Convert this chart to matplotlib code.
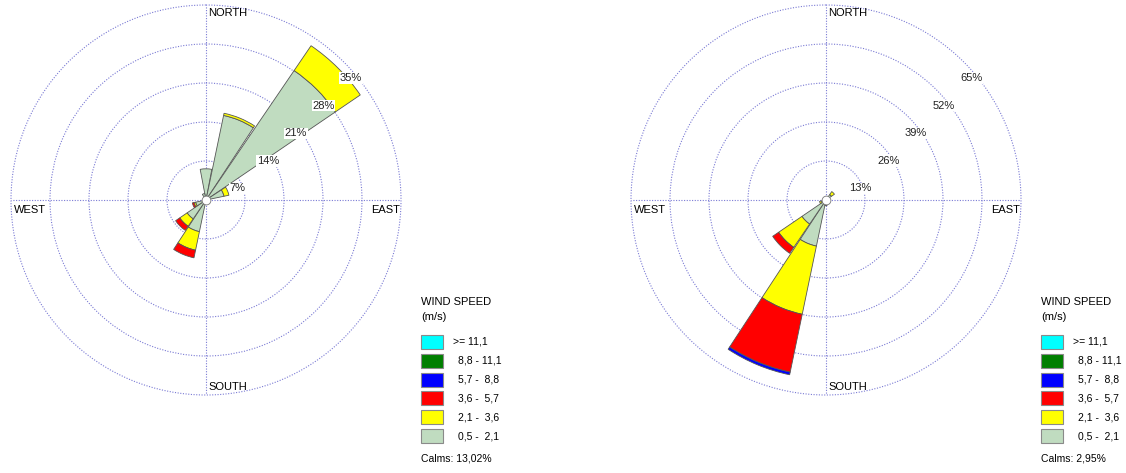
import numpy as np
import matplotlib.pyplot as plt
from matplotlib.patches import Rectangle

plt.rcParams['font.family'] = ['Liberation Sans', 'DejaVu Sans']

W, H = 1126, 473

# 16 compass sectors, clockwise from north
directions = ['N', 'NNE', 'NE', 'ENE', 'E', 'ESE', 'SE', 'SSE',
              'S', 'SSW', 'SW', 'WSW', 'W', 'WNW', 'NW', 'NNW']

speed_labels = ['0,5 -  2,1', '2,1 -  3,6', '3,6 -  5,7',
                '5,7 -  8,8', '8,8 - 11,1', '>= 11,1']
speed_colors = ['#c0dcc0', '#ffff00', '#ff0000', '#0000ff', '#007f00', '#00ffff']

# percent frequency per direction, one list per speed class (left rose)
left_05_21 = [5.6, 15.5, 28.1, 3.3, 0, 0, 0, 0, 0, 5.8, 4.1, 1.9, 0, 0, 0, 1.2]
left_21_36 = [0, 0.4, 5.4, 0.9, 0, 0, 0, 0, 0, 3.4, 1.6, 0.3, 0, 0, 0, 0]
left_36_57 = [0, 0, 0, 0, 0, 0, 0, 0, 0, 1.4, 0.9, 0.3, 0, 0, 0, 0]
left_57_88 = [0] * 16
left_88_111 = [0] * 16
left_111 = [0] * 16
left_calms = '13,02%'
left_rings = [7, 14, 21, 28, 35]

# right rose
right_05_21 = [0, 0, 2.2, 0, 0, 0, 0, 0, 1.4, 15.7, 9.7, 1.5, 0, 0, 0, 0]
right_21_36 = [0, 0, 1.2, 0, 0, 0, 0, 0, 0.5, 23.2, 9.4, 0.7, 0, 0, 0, 0]
right_36_57 = [0, 0, 0, 0, 0, 0, 0, 0, 0, 19.7, 2.4, 0, 0, 0, 0, 0]
right_57_88 = [0, 0, 0, 0, 0, 0, 0, 0, 0, 0.9, 0, 0, 0, 0, 0, 0]
right_88_111 = [0] * 16
right_111 = [0] * 16
right_calms = '2,95%'
right_rings = [13, 26, 39, 52, 65]

GRID = '#7a7ad4'
DOTS = (0, (1, 1.4))


def fx(px):
    return px / W


def fy(py):
    return 1 - py / H


def draw_rose(fig, cx, cy, classes, rings, calms):
    R = 195
    ax = fig.add_axes([fx(cx - R), fy(cy + R), 2 * R / W, 2 * R / H], projection='polar')
    ax.set_theta_zero_location('N')
    ax.set_theta_direction(-1)
    ax.set_ylim(0, rings[-1])

    theta = np.deg2rad(np.arange(16) * 22.5)
    width = np.deg2rad(21.5)
    bottom = np.zeros(16)
    for vals, col in zip(classes, speed_colors):
        vals = np.array(vals, dtype=float)
        mask = vals > 0
        ax.bar(theta[mask], vals[mask], width=width, bottom=bottom[mask],
               color=col, edgecolor='#555555', linewidth=0.6, zorder=3)
        bottom += vals

    ax.set_rgrids(rings, labels=[])
    ax.set_thetagrids([0, 90, 180, 270], labels=[])
    ax.grid(True, color=GRID, linestyle=DOTS, linewidth=0.8)
    ax.spines['polar'].set_visible(False)
    ax.tick_params(length=0)
    for gl in ax.yaxis.get_gridlines():
        gl.set_clip_on(False)

    for r in rings:
        ax.annotate(f'{r}%', xy=(np.deg2rad(45), r), xytext=(-4, -16),
                    textcoords='offset pixels', ha='left', va='center',
                    fontsize=8, color='#222222', zorder=5,
                    bbox=dict(facecolor='white', edgecolor='none', pad=0.5))

    # calm circle
    ax.scatter([0.5], [0.5], s=40, facecolor='white', edgecolor='#777777',
               linewidth=0.6, transform=ax.transAxes, zorder=6, clip_on=False)

    fig.text(fx(cx + 2), fy(cy - 187), 'NORTH', fontsize=8, ha='left', va='center')
    fig.text(fx(cx + 2), fy(cy + 187), 'SOUTH', fontsize=8, ha='left', va='center')
    fig.text(fx(cx - 192), fy(cy + 10), 'WEST', fontsize=8, ha='left', va='center')
    fig.text(fx(cx + 194), fy(cy + 10), 'EAST', fontsize=8, ha='right', va='center')

    # legend
    lx = cx + 215
    fig.text(fx(lx), fy(302), 'WIND SPEED', fontsize=8, ha='left', va='center')
    fig.text(fx(lx), fy(317), '(m/s)', fontsize=8, ha='left', va='center')
    rows = list(zip(speed_labels, speed_colors))[::-1]
    for i, (lab, col) in enumerate(rows):
        yc = 342 + i * 18.8
        fig.add_artist(Rectangle((fx(lx), fy(yc + 7)), 22 / W, 14 / H,
                                 transform=fig.transFigure, facecolor=col,
                                 edgecolor='#8a8a8a', linewidth=0.8))
        tx = lx + 32 if i == 0 else lx + 37
        fig.text(fx(tx), fy(yc), lab, fontsize=7.5, ha='left', va='center')
    fig.text(fx(lx), fy(458), f'Calms: {calms}', fontsize=7.5, ha='left', va='center')
    return ax


fig = plt.figure(figsize=(W / 100, H / 100), dpi=100)
draw_rose(fig, 206, 200,
          [left_05_21, left_21_36, left_36_57, left_57_88, left_88_111, left_111],
          left_rings, left_calms)
draw_rose(fig, 826, 200,
          [right_05_21, right_21_36, right_36_57, right_57_88, right_88_111, right_111],
          right_rings, right_calms)

fig.savefig('out.png', dpi=100)
